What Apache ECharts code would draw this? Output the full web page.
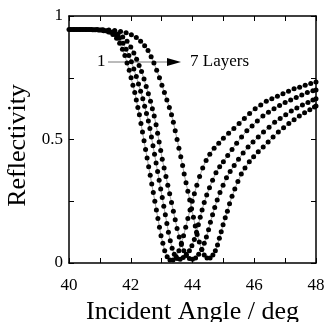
<!DOCTYPE html>
<html>
<head>
	<meta charset="UTF-8">
	<title>Reflectivity</title>
	<style>
		html, body { margin: 0; padding: 0; background: #fff; }
		#chart { width: 327px; height: 322px; }
	</style>
</head>
<body>
	<div id="chart"></div>
</body>
<script src="https://cdn.jsdelivr.net/npm/echarts@6/dist/echarts.min.js"></script>
<script>
// [angle (deg), reflectivity]
var layer1 = [[40.0,0.945],[40.19,0.945],[40.38,0.945],[40.57,0.945],[40.76,0.944],[40.95,0.943],[41.12,0.94],[41.28,0.935],[41.42,0.925],[41.54,0.91],[41.64,0.89],[41.73,0.865],[41.81,0.84],[41.88,0.81],[41.95,0.78],[42.01,0.75],[42.07,0.72],[42.13,0.69],[42.18,0.66],[42.23,0.63],[42.28,0.6],[42.33,0.565],[42.38,0.53],[42.43,0.495],[42.48,0.46],[42.53,0.425],[42.58,0.39],[42.63,0.355],[42.68,0.32],[42.73,0.285],[42.78,0.25],[42.83,0.215],[42.88,0.18],[42.93,0.145],[42.98,0.11],[43.04,0.08],[43.1,0.05],[43.18,0.025],[43.27,0.012],[43.37,0.012],[43.47,0.025],[43.56,0.05],[43.64,0.08],[43.71,0.11],[43.78,0.145],[43.85,0.18],[43.92,0.215],[43.99,0.25],[44.06,0.28],[44.14,0.315],[44.23,0.35],[44.33,0.385],[44.44,0.415],[44.56,0.44],[44.7,0.465],[44.85,0.485],[45.0,0.505],[45.17,0.525],[45.34,0.545],[45.51,0.565],[45.68,0.585],[45.85,0.605],[46.03,0.625],[46.21,0.64],[46.39,0.655],[46.57,0.665],[46.75,0.675],[46.93,0.685],[47.11,0.695],[47.29,0.705],[47.47,0.712],[47.65,0.72],[47.83,0.727],[48.0,0.733]];
var layer2 = [[40.05,0.945],[40.24,0.945],[40.43,0.945],[40.62,0.945],[40.81,0.944],[41.0,0.943],[41.18,0.94],[41.35,0.934],[41.5,0.925],[41.63,0.91],[41.75,0.89],[41.85,0.865],[41.94,0.84],[42.02,0.815],[42.1,0.785],[42.18,0.755],[42.25,0.725],[42.32,0.695],[42.39,0.665],[42.45,0.635],[42.51,0.605],[42.57,0.575],[42.62,0.545],[42.67,0.51],[42.72,0.475],[42.77,0.44],[42.82,0.405],[42.87,0.37],[42.92,0.335],[42.97,0.3],[43.02,0.265],[43.07,0.23],[43.12,0.195],[43.17,0.16],[43.22,0.125],[43.28,0.09],[43.34,0.06],[43.41,0.035],[43.5,0.018],[43.6,0.015],[43.7,0.022],[43.8,0.035],[43.9,0.05],[43.98,0.07],[44.06,0.095],[44.13,0.125],[44.19,0.155],[44.25,0.185],[44.31,0.215],[44.38,0.245],[44.46,0.275],[44.55,0.305],[44.65,0.335],[44.76,0.365],[44.88,0.39],[45.0,0.41],[45.14,0.435],[45.28,0.46],[45.43,0.485],[45.59,0.51],[45.76,0.535],[45.93,0.555],[46.1,0.575],[46.28,0.595],[46.46,0.61],[46.64,0.625],[46.82,0.638],[47.0,0.65],[47.18,0.66],[47.36,0.67],[47.54,0.68],[47.72,0.69],[47.9,0.697],[48.0,0.7]];
var layer3 = [[40.1,0.945],[40.29,0.945],[40.48,0.945],[40.67,0.945],[40.86,0.944],[41.05,0.943],[41.24,0.94],[41.42,0.935],[41.59,0.927],[41.74,0.915],[41.88,0.898],[42.0,0.875],[42.1,0.85],[42.19,0.825],[42.27,0.8],[42.35,0.775],[42.43,0.745],[42.5,0.715],[42.57,0.685],[42.64,0.655],[42.7,0.625],[42.76,0.595],[42.82,0.56],[42.87,0.525],[42.92,0.49],[42.97,0.455],[43.02,0.42],[43.08,0.385],[43.14,0.35],[43.2,0.315],[43.26,0.28],[43.32,0.245],[43.38,0.21],[43.44,0.175],[43.5,0.14],[43.57,0.105],[43.64,0.075],[43.72,0.05],[43.8,0.03],[43.9,0.018],[44.0,0.015],[44.1,0.02],[44.2,0.035],[44.3,0.055],[44.38,0.08],[44.45,0.105],[44.52,0.135],[44.58,0.165],[44.65,0.195],[44.72,0.225],[44.8,0.255],[44.89,0.285],[44.99,0.315],[45.1,0.345],[45.22,0.37],[45.35,0.395],[45.49,0.42],[45.64,0.445],[45.8,0.47],[45.96,0.49],[46.13,0.51],[46.3,0.53],[46.48,0.55],[46.66,0.57],[46.84,0.585],[47.02,0.6],[47.2,0.615],[47.38,0.628],[47.56,0.64],[47.74,0.65],[47.9,0.66],[48.0,0.665]];
var layer4 = [[40.15,0.945],[40.34,0.945],[40.53,0.945],[40.72,0.945],[40.91,0.945],[41.1,0.944],[41.29,0.943],[41.48,0.941],[41.67,0.937],[41.85,0.932],[42.02,0.924],[42.18,0.913],[42.32,0.898],[42.45,0.88],[42.56,0.86],[42.66,0.835],[42.75,0.81],[42.84,0.78],[42.93,0.75],[43.01,0.72],[43.09,0.69],[43.17,0.66],[43.25,0.63],[43.32,0.6],[43.38,0.57],[43.44,0.535],[43.5,0.5],[43.56,0.465],[43.62,0.43],[43.68,0.395],[43.73,0.36],[43.79,0.325],[43.85,0.29],[43.91,0.255],[43.97,0.22],[44.03,0.185],[44.09,0.15],[44.15,0.115],[44.22,0.085],[44.3,0.055],[44.38,0.032],[44.47,0.02],[44.57,0.02],[44.66,0.032],[44.74,0.05],[44.81,0.073],[44.87,0.1],[44.93,0.127],[44.99,0.155],[45.06,0.183],[45.13,0.21],[45.2,0.24],[45.28,0.27],[45.37,0.3],[45.47,0.33],[45.58,0.36],[45.7,0.385],[45.84,0.41],[45.98,0.43],[46.13,0.45],[46.29,0.47],[46.45,0.49],[46.61,0.51],[46.78,0.53],[46.95,0.548],[47.12,0.565],[47.29,0.58],[47.46,0.595],[47.63,0.608],[47.8,0.62],[47.95,0.632],[48.0,0.636]];

var layers = [layer1, layer2, layer3, layer4];

var font = '"Liberation Serif", "DejaVu Serif", serif';

var chart = echarts.init(document.getElementById('chart'));

// axis style shared by the 4 sides of the frame
function frameAxis(extra) {
    var base = {
        axisLine: { show: true, onZero: false, lineStyle: { color: '#000', width: 1.5 } },
        axisTick: { show: true, inside: true, length: 5, lineStyle: { color: '#000', width: 1 } },
        splitLine: { show: false },
        axisLabel: { show: false }
    };
    for (var k in extra) base[k] = extra[k];
    return base;
}

var series = layers.map(function (d, i) {
    return {
        name: 'layer' + (i + 1),
        type: 'line',
        data: d,
        symbol: 'circle',
        symbolSize: 5,
        showSymbol: true,
        clip: false,
        lineStyle: { color: '#8a8a8a', width: 0.8 },
        itemStyle: { color: '#000' },
        z: 3
    };
});

var option = {
    animation: false,
    backgroundColor: '#fff',
    grid: { left: 69, right: 11, top: 16, bottom: 59, containLabel: false, outerBoundsMode: 'none' },
    xAxis: [
        frameAxis({
            type: 'value', min: 40, max: 48, interval: 1, position: 'bottom',
            name: 'Incident Angle / deg', nameLocation: 'middle', nameGap: 32,
            nameTextStyle: { fontFamily: font, fontSize: 26, color: '#000' },
            axisLabel: {
                show: true, margin: 14, color: '#000', fontFamily: font, fontSize: 17,
                formatter: function (v) { return v % 2 === 0 ? v : ''; }
            }
        }),
        frameAxis({ type: 'value', min: 40, max: 48, interval: 1, position: 'top' })
    ],
    yAxis: [
        frameAxis({
            type: 'value', min: 0, max: 1, interval: 0.25, position: 'left',
            name: 'Reflectivity', nameLocation: 'middle', nameGap: 37,
            nameTextStyle: { fontFamily: font, fontSize: 26, color: '#000', padding: [0, 12, 0, 0] },
            axisLabel: {
                show: true, margin: 6, color: '#000', fontFamily: font, fontSize: 17,
                formatter: function (v) { return (v === 0 || v === 0.5 || v === 1) ? v : ''; }
            }
        }),
        frameAxis({ type: 'value', min: 0, max: 1, interval: 0.25, position: 'right' })
    ],
    // annotation: 1 ---> 7 Layers
    graphic: [
        { type: 'text', left: 97, top: 53, style: { text: '1', font: '17px ' + font, fill: '#000' } },
        { type: 'line', shape: { x1: 108, y1: 62, x2: 170, y2: 62 }, style: { stroke: '#777', lineWidth: 1 } },
        { type: 'polygon', shape: { points: [[167, 58], [181, 62], [167, 66]] }, style: { fill: '#000' } },
        { type: 'text', left: 190, top: 53, style: { text: '7 Layers', font: '17px ' + font, fill: '#000' } }
    ],
    series: series
};

chart.setOption(option);
</script>
</html>
